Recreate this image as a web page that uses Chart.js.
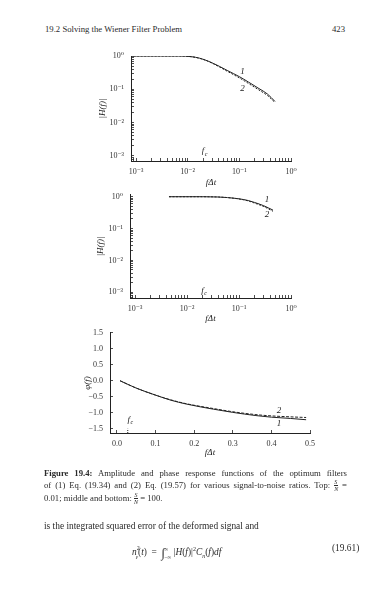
<!DOCTYPE html>
<html><head><meta charset="utf-8">
<script src="https://cdn.jsdelivr.net/npm/chart.js@4.4.1/dist/chart.umd.min.js"></script>
<style>
body{margin:0;width:391px;height:592px;background:#fff;position:relative;overflow:hidden;font-family:"Liberation Serif","DejaVu Serif",serif;color:#2b2b2b}
.abs{position:absolute;white-space:nowrap}
canvas{position:absolute}
.jl{text-align:justify;text-align-last:justify;width:303px;left:44px;position:absolute;white-space:nowrap;font-size:8.7px}
.fr{display:inline-block;vertical-align:middle;text-align:center;font-size:6px;line-height:6px;font-style:italic}
.fr span{display:block}
.fr span:first-child{border-bottom:0.6px solid #2b2b2b}
</style></head><body>
<div class="abs" style="left:45px;top:24px;font-size:8.7px">19.2 Solving the Wiener Filter Problem</div>
<div class="abs" style="left:332px;top:24px;font-size:8.7px">423</div>

<canvas id="c1" width="240" height="160" style="left:70px;top:40px"></canvas>
<canvas id="c2" width="240" height="160" style="left:70px;top:180px"></canvas>
<canvas id="c3" width="270" height="152" style="left:60px;top:318px"></canvas>

<div class="jl" style="top:468px"><b>Figure 19.4:</b> Amplitude and phase response functions of the optimum filters</div>
<div class="jl" style="top:479px">of (1) Eq. (19.34) and (2) Eq. (19.57) for various signal-to-noise ratios. Top: <span class="fr"><span>S</span><span>N</span></span> =</div>
<div class="abs" style="left:44px;top:492px;font-size:8.7px">0.01; middle and bottom: <span class="fr"><span>S</span><span>N</span></span> = 100.</div>

<div class="abs" style="left:44px;top:521px;font-size:9.4px">is the integrated squared error of the deformed signal and</div>
<div class="abs" style="left:132px;top:543px;font-size:9.4px"><i>n</i><sup style="font-size:6px;position:relative;top:-1px">2</sup><sub style="font-size:6px;margin-left:-4px;position:relative;top:1px"><i>ε</i></sub>(<i>t</i>) &nbsp;=&nbsp; <span style="font-size:13px;position:relative;top:2px">∫</span><span style="display:inline-block;vertical-align:middle;font-size:5.5px;line-height:8px;margin-left:-1px"><span style="display:block">∞</span><span style="display:block">−∞</span></span> |<i>H</i>(<i>f</i>)|<sup style="font-size:6px">2</sup><i>C</i><sub style="font-size:6px"><i>n</i></sub>(<i>f</i>)<i>df</i></div>
<div class="abs" style="left:332px;top:543px;font-size:9.4px">(19.61)</div>

<script>
// ---------- data ----------
const freqTop = [0.0009, 0.003, 0.007, 0.012, 0.017, 0.025, 0.041, 0.06, 0.1, 0.15, 0.24, 0.35, 0.49];
const ampTop1 = [1, 1, 1, 0.95, 0.86, 0.7, 0.49, 0.36, 0.24, 0.165, 0.105, 0.072, 0.043];
const ampTop2 = [1, 1, 1, 0.95, 0.85, 0.69, 0.47, 0.34, 0.22, 0.15, 0.095, 0.065, 0.04];

const freqMid = [0.0045, 0.01, 0.02, 0.04, 0.06, 0.1, 0.15, 0.2, 0.3, 0.45];
const ampMid1 = [1, 1, 1, 0.98, 0.94, 0.86, 0.76, 0.66, 0.52, 0.38];
const ampMid2 = [1, 1, 1, 0.98, 0.94, 0.85, 0.74, 0.63, 0.49, 0.35];

const freqPhase = [0.008, 0.05, 0.1, 0.14, 0.18, 0.25, 0.3, 0.36, 0.4, 0.45, 0.49];
const phase1 = [0, -0.23, -0.45, -0.61, -0.73, -0.89, -0.99, -1.09, -1.14, -1.18, -1.22];
const phase2 = [0, -0.23, -0.45, -0.6, -0.72, -0.87, -0.97, -1.06, -1.1, -1.13, -1.15];

const fcMarkX = [0.028, 0.028];
const fcMarkY = [-1.635, -1.5];

const logTickValues = [0.001, 0.01, 0.1, 1];
const logTickLabels = ['10⁻³', '10⁻²', '10⁻¹', '10⁰'];
const phaseYTicks = [-1.5, -1.0, -0.5, 0.0, 0.5, 1.0, 1.5];
const phaseYLabels = ['−1.5', '−1.0', '−0.5', '0.0', '0.5', '1.0', '1.5'];
const phaseXTicks = [0, 0.1, 0.2, 0.3, 0.4, 0.5];
const phaseXLabels = ['0.0', '0.1', '0.2', '0.3', '0.4', '0.5'];

// ---------- helpers ----------
const FONT = '"Liberation Serif","DejaVu Serif",serif';
const INK = '#222';
function pts(xs, ys){ return xs.map((x,i)=>({x, y:ys[i]})); }
function logTickSet(){
  const out = [];
  for (let e=-4; e<=0; e++) for (let m=1; m<=9; m++){
    const v = m*Math.pow(10,e); out.push(v);
  }
  return out;
}
function labelFor(vals, labels){
  return (v)=>{
    for (let i=0;i<vals.length;i++){ if (Math.abs(v-vals[i]) < Math.abs(vals[i])*1e-6 + 1e-9) return labels[i]; }
    return '';
  };
}
const annot = {
  id:'annot',
  afterDatasetsDraw(chart, args, opts){
    const {ctx} = chart; const x = chart.scales.x, y = chart.scales.y;
    (opts.items||[]).forEach(it=>{
      const px = x.getPixelForValue(it.x), py = y.getPixelForValue(it.y);
      ctx.save(); ctx.fillStyle = INK; ctx.textBaseline='middle';
      ctx.font = (it.italic?'italic ':'') + '9px ' + FONT;
      if (it.sub){
        ctx.textAlign='right'; ctx.fillText(it.t, px, py);
        ctx.font = 'italic 6px ' + FONT; ctx.textAlign='left'; ctx.fillText(it.sub, px+0.5, py+3);
      } else { ctx.textAlign='center'; ctx.fillText(it.t, px, py); }
      ctx.restore();
    });
  }
};

function build(id, rect, area, t, cfg){
  const YW = 40, XH = 30, LH = 10.8;
  const padL = area.left - rect.left - YW;
  const padT = area.top - rect.top;
  const padR = rect.left + rect.w - area.right;
  const padB = rect.top + rect.h - area.bottom - XH;
  const yTitlePad = (t.yTitleX - rect.left) - padL - LH/2;
  const xTitlePad = (rect.top + rect.h - padB) - t.xTitleY - LH/2;
  const tickFont = {family: FONT, size: 8};
  const ds = cfg.series.map(s=>({
    data: s.data, borderColor: INK, borderWidth: s.w||1, borderDash: s.dash||[], pointRadius:0,
    fill:false, cubicInterpolationMode: s.straight ? 'default' : 'monotone', tension:0
  }));
  new Chart(document.getElementById(id), {
    type:'line',
    data:{datasets: ds},
    options:{
      responsive:false, animation:false, parsing:true,
      layout:{padding:{left:padL, top:padT, right:padR, bottom:padB}},
      plugins:{legend:{display:false}, tooltip:{enabled:false}, annot:{items: cfg.annot}},
      scales:{
        x:{
          type: cfg.xType, min: cfg.xMin, max: cfg.xMax, position:'bottom',
          afterFit: s=>{ s.height = XH; },
          afterBuildTicks: s=>{ s.ticks = cfg.xTicks.map(v=>({value:v})); },
          grid:{display:true, drawOnChartArea:false, drawTicks:true, tickLength:-3, color:INK, lineWidth:0.8},
          border:{display:true, color:INK, width:1},
          ticks:{autoSkip:false, maxRotation:0, padding:9, color:'#333', font:tickFont, callback: cfg.xLabel},
          title:{display:true, text:'fΔt', color:INK, font:{family:FONT, size:9, style:'italic'}, padding:{top:0, bottom:xTitlePad}}
        },
        y:{
          type: cfg.yType, min: cfg.yMin, max: cfg.yMax, position:'left',
          afterFit: s=>{ s.width = YW; },
          afterBuildTicks: s=>{ s.ticks = cfg.yTicks.map(v=>({value:v})); },
          grid:{display:true, drawOnChartArea:false, drawTicks:true, tickLength:-3, color:INK, lineWidth:0.8},
          border:{display:true, color:INK, width:1},
          ticks:{autoSkip:false, padding:10, color:'#333', font:tickFont, callback: cfg.yLabel},
          title:{display:true, text:cfg.yTitle, color:INK, font:{family:FONT, size:9, style:'italic'}, padding:{top:yTitlePad, bottom:0}}
        }
      }
    },
    plugins:[annot]
  });
}

const logTicks = logTickSet();

build('c1', {left:70, top:40, w:240, h:160}, {left:131, right:291, top:56, bottom:161},
  {yTitleX:103, xTitleY:183},
  { xType:'logarithmic', xMin:0.0008, xMax:1, yType:'logarithmic', yMin:0.0007, yMax:1,
    xTicks: logTicks.filter(v=>v>=0.0008 && v<=1), yTicks: logTicks.filter(v=>v>=0.0007 && v<=1),
    xLabel: labelFor(logTickValues, logTickLabels), yLabel: labelFor(logTickValues, logTickLabels),
    yTitle:'|H(f)|',
    series:[{data:pts(freqTop, ampTop1)}, {data:pts(freqTop, ampTop2), dash:[2,1.5]}],
    annot:[{x:0.115, y:0.35, t:'1', italic:true}, {x:0.115, y:0.107, t:'2', italic:true}, {x:0.021, y:0.0014, t:'f', sub:'c', italic:true}]
  });

build('c2', {left:70, top:180, w:240, h:160}, {left:130, right:291, top:191, bottom:298},
  {yTitleX:101, xTitleY:319},
  { xType:'logarithmic', xMin:0.0008, xMax:1, yType:'logarithmic', yMin:0.00066, yMax:1.15,
    xTicks: logTicks.filter(v=>v>=0.0008 && v<=1), yTicks: logTicks.filter(v=>v>=0.00066 && v<=1.15),
    xLabel: labelFor(logTickValues, logTickLabels), yLabel: labelFor(logTickValues, logTickLabels),
    yTitle:'|H(f)|',
    series:[{data:pts(freqMid, ampMid1)}, {data:pts(freqMid, ampMid2), dash:[2,1.5]}],
    annot:[{x:0.345, y:0.81, t:'1', italic:true}, {x:0.345, y:0.266, t:'2', italic:true}, {x:0.021, y:0.00115, t:'f', sub:'c', italic:true}]
  });

build('c3', {left:60, top:318, w:270, h:152}, {left:110, right:310, top:328, bottom:433},
  {yTitleX:88, xTitleY:453},
  { xType:'linear', xMin:-0.018, xMax:0.5, yType:'linear', yMin:-1.635, yMax:1.5,
    xTicks: phaseXTicks, yTicks: phaseYTicks,
    xLabel: labelFor(phaseXTicks, phaseXLabels), yLabel: labelFor(phaseYTicks, phaseYLabels),
    yTitle:'φ(f)',
    series:[{data:pts(freqPhase, phase1)}, {data:pts(freqPhase, phase2), dash:[3,1.5]}, {data:pts(fcMarkX, fcMarkY), dash:[1,1], straight:true}],
    annot:[{x:0.42, y:-0.92, t:'2', italic:true}, {x:0.42, y:-1.35, t:'1', italic:true}, {x:0.034, y:-1.22, t:'f', sub:'c', italic:true}]
  });
</script>
</body></html>
